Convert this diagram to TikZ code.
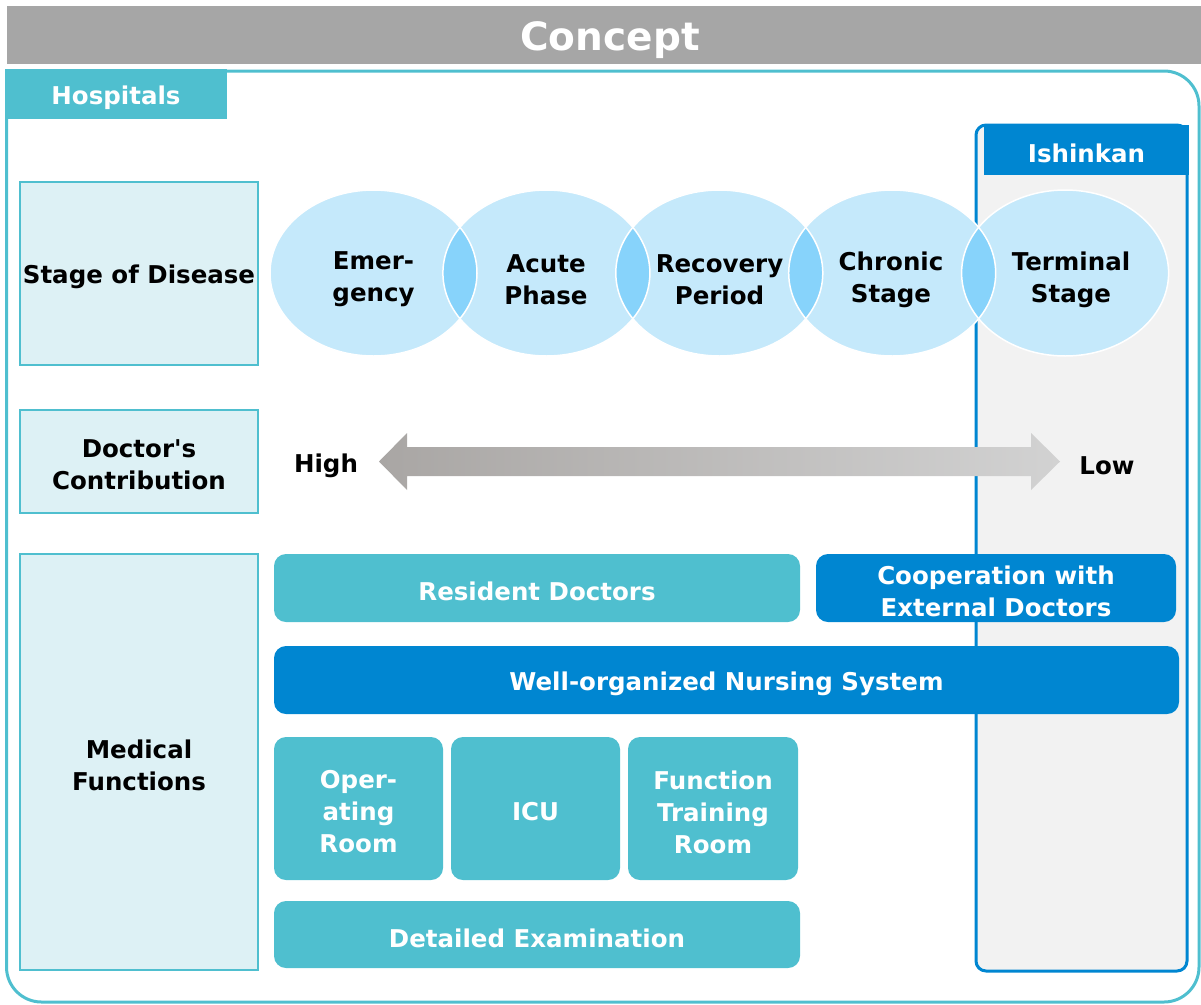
\documentclass[tikz,border=0pt]{standalone}
\usepackage{fontspec}
\setmainfont{DejaVu Sans}
\usetikzlibrary{shapes.geometric}
\definecolor{hteal}{HTML}{4FBFCF}
\definecolor{ishblue}{HTML}{0086D1}
\definecolor{bargray}{HTML}{A6A6A6}
\definecolor{sidefill}{HTML}{DDF1F5}
\definecolor{panelgray}{HTML}{F2F2F2}
\definecolor{ellfill}{HTML}{C5E9FB}
\definecolor{lensfill}{HTML}{87D3FB}
\definecolor{arrowdark}{HTML}{A9A6A4}
\definecolor{arrowlight}{HTML}{D2D2D2}
\begin{document}
\begin{tikzpicture}[x=1pt,y=-1pt,
  lbl/.style={font=\bfseries\fontsize{24.5}{32}\selectfont, align=center, inner sep=0pt},
  txt/.style={lbl, yshift=-3.5pt},
  sidebox/.style={draw=hteal, line width=2pt, fill=sidefill, inner sep=0pt,
    minimum width=238pt, lbl},
  fbox/.style={rounded corners=12pt, inner sep=0pt, text=white, lbl},
  tealbox/.style={fbox, fill=hteal},
  bluebox/.style={fbox, fill=ishblue},
  stage/.style={ellipse, fill=ellfill, minimum width=207pt, minimum height=166pt, inner sep=0pt},
]
\useasboundingbox (0,0) rectangle (1201,1004);

% title bar
\node[fill=bargray, minimum width=1194pt, minimum height=58pt, inner sep=0pt] (bar) at (604,35) {};
\node[text=white, font=\bfseries\fontsize{39}{44}\selectfont, inner sep=0pt] (title) at (610,40) {Concept};

% hospital frame and tab
\draw[hteal, line width=3pt, rounded corners=35pt] (6.5,71) rectangle (1199,1002);
\node[fill=hteal, minimum width=222pt, minimum height=50pt, inner sep=0pt] (tab) at (116,94) {};
\node[txt, text=white] (tabtext) at (tab) {Hospitals};

% Ishinkan panel
\draw[ishblue, fill=panelgray, line width=3pt, rounded corners=10pt] (976,125) rectangle (1187,971);
\node[fill=ishblue, minimum width=205pt, minimum height=50pt, inner sep=0pt] (ishhead) at (1086.5,150) {};
\node[txt, text=white] (ishtext) at (ishhead) {Ishinkan};

% row labels
\node[sidebox, minimum height=183pt] (sb1) at (139,273.5) {};
\node[sidebox, minimum height=103pt] (sb2) at (139,461.5) {};
\node[sidebox, minimum height=416pt] (sb3) at (139,762) {};
\node[txt] (sb1t) at (sb1) {Stage of Disease};
\node[txt] (sb2t) at (sb2) {Doctor\textquotesingle s\\Contribution};
\node[txt] (sb3t) at (sb3) {Medical\\Functions};

% stages of disease
\foreach \i/\cx in {1/373.5, 2/546.4, 3/719.3, 4/892.2, 5/1065.1}
  \node[stage] (e\i) at (\cx,273) {};
\foreach \a/\b in {1/2, 2/3, 3/4, 4/5} {
  \begin{scope}
    \clip (e\a.center) ellipse [x radius=103.5pt, y radius=83pt];
    \fill[lensfill] (e\b.center) ellipse [x radius=103.5pt, y radius=83pt];
  \end{scope}
}
\foreach \i in {1,...,5}
  \draw[white, line width=1.5pt] (e\i.center) ellipse [x radius=103.5pt, y radius=83pt];
\node[txt] (t1) at (373.5,276) {Emer-\\gency};
\node[txt] (t2) at (546,276) {Acute\\Phase};
\node[txt] (t3) at (719.5,276) {Recovery\\Period};
\node[txt] (t4) at (891,276) {Chronic\\Stage};
\node[txt] (t5) at (1071,276) {Terminal\\Stage};

% doctor's contribution
\shade[left color=arrowdark, middle color=arrowdark!92!arrowlight, right color=arrowlight]
  (379,461.5) -- (407,433) -- (407,447) -- (1031,447) -- (1031,433) -- (1060,461.5)
  -- (1031,490) -- (1031,476) -- (407,476) -- (407,490) -- cycle;
\node[txt] (high) at (326,462) {High};
\node[txt] (low) at (1107,462) {Low};

% medical functions
\node[tealbox, minimum width=526pt, minimum height=68pt] (res) at (537,588) {};
\node[bluebox, minimum width=360pt, minimum height=68pt] (coop) at (996,588) {};
\node[bluebox, minimum width=905pt, minimum height=68pt] (nurse) at (726.5,680) {};
\node[tealbox, minimum width=169pt, minimum height=143pt] (op) at (358.5,808.5) {};
\node[tealbox, minimum width=169pt, minimum height=143pt] (icu) at (535.5,808.5) {};
\node[tealbox, minimum width=170pt, minimum height=143pt] (ftr) at (713,808.5) {};
\node[tealbox, minimum width=526pt, minimum height=67pt] (det) at (537,934.5) {};
\node[txt, text=white] (rest) at (res) {Resident Doctors};
\node[txt, text=white] (coopt) at (coop) {Cooperation with\\External Doctors};
\node[txt, text=white] (nurset) at (nurse) {Well-organized Nursing System};
\node[txt, text=white] (opt) at (op) {Oper-\\ating\\Room};
\node[txt, text=white] (icut) at (icu) {ICU};
\node[txt, text=white] (ftrt) at (ftr) {Function\\Training\\Room};
\node[txt, text=white] (dett) at (det) {Detailed Examination};
\end{tikzpicture}
\end{document}
